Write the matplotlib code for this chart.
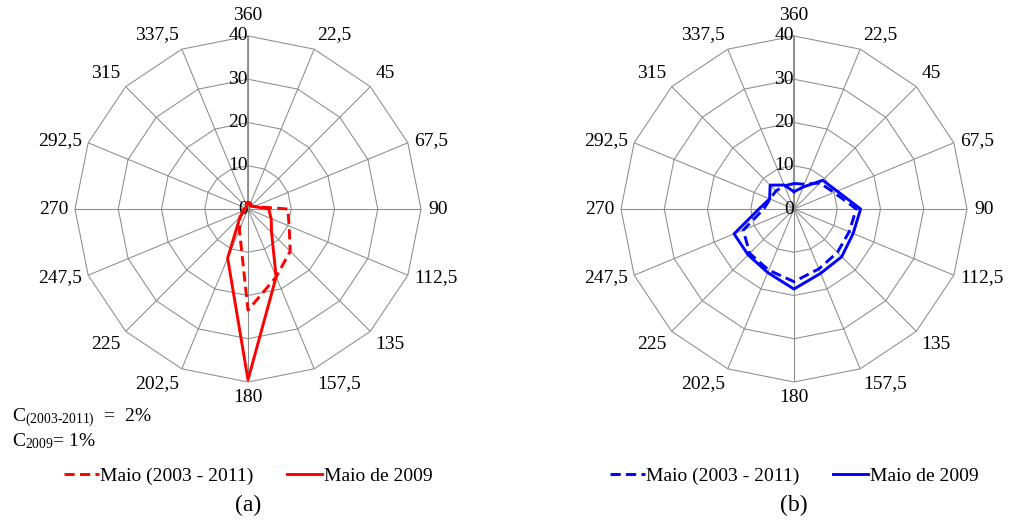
import matplotlib.pyplot as plt
import numpy as np

plt.rcParams['font.family'] = 'Liberation Serif'
plt.rcParams['mathtext.fontset'] = 'custom'
plt.rcParams['mathtext.rm'] = 'Liberation Serif'
plt.rcParams['mathtext.it'] = 'Liberation Serif:italic'

# direcoes do vento (graus) e rotulos
direcoes = [360, 22.5, 45, 67.5, 90, 112.5, 135, 157.5, 180,
            202.5, 225, 247.5, 270, 292.5, 315, 337.5]
rotulos = ['360', '22,5', '45', '67,5', '90', '112,5', '135', '157,5', '180',
           '202,5', '225', '247,5', '270', '292,5', '315', '337,5']
aneis = [0, 10, 20, 30, 40]

# (a) frequencias (%)
maio_media_a = [1.5, 1.0, 1.0, 1.5, 9.2, 10.3, 13.8, 17.0, 23.4,
                5.2, 2.6, 1.0, 1.0, 0.5, 0.5, 1.0]
maio_2009_a = [1.5, 1.5, 1.0, 1.5, 4.8, 5.8, 7.7, 17.0, 39.5,
               12.3, 2.6, 1.0, 1.0, 0.5, 0.5, 1.0]

# (b)
maio_media_b = [5.9, 6.2, 8.5, 10.0, 14.4, 13.8, 14.2, 15.0, 16.8,
                15.3, 14.5, 12.7, 7.0, 6.0, 5.9, 5.8]
maio_2009_b = [4.0, 5.5, 9.4, 10.8, 15.4, 14.8, 15.6, 16.1, 18.5,
               15.9, 15.0, 15.0, 8.1, 6.1, 7.8, 6.0]

legendas = ['Maio (2003 - 2011)', 'Maio de 2009']
cinza = '#8c8c8c'


def desenha_radar(ax, media, ano, cor):
    theta = np.deg2rad(direcoes) % (2 * np.pi)
    theta_f = np.append(theta, theta[0])
    ax.set_theta_zero_location('N')
    ax.set_theta_direction(-1)
    ax.set_ylim(0, 40)
    ax.set_xticks(theta)
    ax.set_xticklabels([])
    ax.set_yticks([])
    ax.grid(True, axis='x', color=cinza, lw=0.75)
    ax.spines['polar'].set_visible(False)
    ax.set_facecolor('none')

    for r in aneis[1:]:
        ax.plot(theta_f, [r] * len(theta_f), color=cinza, lw=0.75, zorder=1, clip_on=False)
    ax.plot([0, 0], [0, 40], color=cinza, lw=1.3, zorder=1)

    for r in aneis:
        ax.annotate(str(r), xy=(0, r), xytext=(0, 0), textcoords='offset points',
                    ha='right', va='center', fontsize=14, zorder=2)

    for t, lab in zip(theta, rotulos):
        s, c = np.sin(t), np.cos(t)
        ha = 'left' if s > 0.3 else ('right' if s < -0.3 else 'center')
        va = 'bottom' if c > 0.7 else ('top' if c < -0.7 else 'center')
        pad = 9 if lab == '360' else 5
        ax.annotate(lab, xy=(t, 40), xytext=(pad * s, pad * c), textcoords='offset points',
                    ha=ha, va=va, fontsize=14, annotation_clip=False)

    l1, = ax.plot(theta_f, media + media[:1], color=cor, lw=2.1,
                  linestyle=(0, (3.5, 1.8)), zorder=5, clip_on=False)
    l2, = ax.plot(theta_f, ano + ano[:1], color=cor, lw=2.1,
                  zorder=5, clip_on=False)
    return l1, l2


fig = plt.figure(figsize=(10.09, 5.24), dpi=100)
W, H = 1009, 524
ax1 = fig.add_axes([75 / W, (H - 382) / H, 346 / W, 346 / H], projection='polar')
ax2 = fig.add_axes([621 / W, (H - 382) / H, 346 / W, 346 / H], projection='polar')

ha1 = desenha_radar(ax1, maio_media_a, maio_2009_a, '#ff0000')
ha2 = desenha_radar(ax2, maio_media_b, maio_2009_b, '#0000ff')

for hs, cx in [(ha1, 248), (ha2, 794)]:
    leg = fig.legend(hs, legendas, loc='center', bbox_to_anchor=(cx / W, 1 - 476 / H), ncol=2,
                     frameon=False, fontsize=14, handlelength=1.8, handletextpad=0.1,
                     columnspacing=1.7)
    for ln in leg.get_lines():
        ln.set_linewidth(2.1)

fig.text(248 / W, 1 - 505 / H, '(a)', ha='center', va='center', fontsize=17)
fig.text(794 / W, 1 - 505 / H, '(b)', ha='center', va='center', fontsize=17)

fig.text(12 / W, 1 - 418 / H, r'C$_{\text{(2003-2011)}}$  =  2%', fontsize=14, va='center')
fig.text(12 / W, 1 - 441 / H, r'C$_{\text{2009}}$= 1%', fontsize=14, va='center')

fig.savefig('out.png', dpi=100)
